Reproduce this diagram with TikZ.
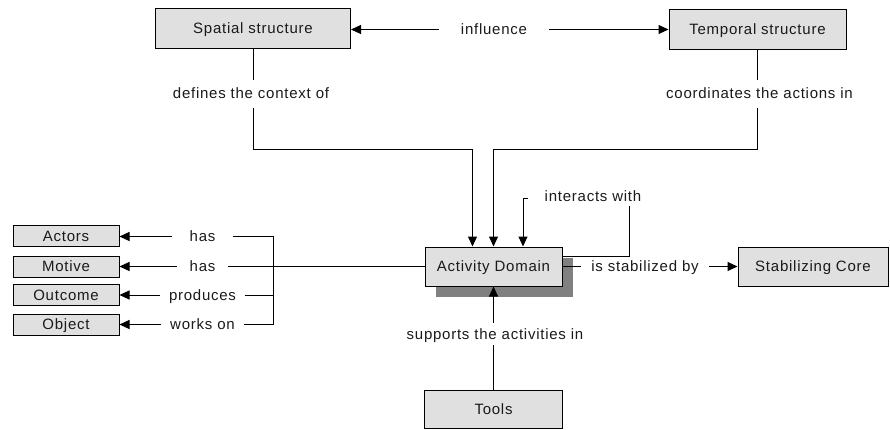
\documentclass[tikz,border=0pt]{standalone}
\usepackage{fontspec}
\setmainfont{Liberation Sans}[LetterSpace=5]
\usetikzlibrary{arrows.meta,shadows}
\definecolor{boxgray}{HTML}{E0E0E0}
\definecolor{shadowgray}{HTML}{808080}
\definecolor{ink}{HTML}{1A1A1A}
\begin{document}
\begin{tikzpicture}[x=1pt,y=-1pt,
  font=\fontsize{15}{18}\selectfont, text=ink,
  box/.style={draw=black, fill=boxgray, line width=1pt, inner sep=0pt, text height=11pt, text depth=1pt},
  bigbox/.style={box, minimum height=39pt},
  smallbox/.style={box, minimum width=106pt, minimum height=21pt},
  lbl/.style={inner ysep=0pt, text height=11pt, text depth=1pt},
  conn/.style={line width=1pt, draw=black},
  arr/.style={conn, -{Triangle[length=10pt,width=9pt]}},
]
\useasboundingbox (0,0) rectangle (890,430);
% boxes
\node[bigbox, minimum width=195pt, minimum height=40pt] (sp) at (253,29) {Spatial structure};
\node[bigbox, minimum width=177pt, minimum height=40pt] (tp) at (757.5,30) {Temporal structure};
\node[bigbox, minimum width=137pt, drop shadow={shadow xshift=11pt, shadow yshift=-11pt, fill=shadowgray, opacity=1}] (ad) at (493.5,266.5) {Activity Domain};
\node[bigbox, minimum width=150pt] (sc) at (813,266.5) {Stabilizing Core};
\node[bigbox, minimum width=138pt, minimum height=38pt] (tools) at (493.5,409) {Tools};
\node[smallbox] (actors) at (66,236) {Actors};
\node[smallbox] (motive) at (66,266.5) {Motive};
\node[smallbox] (outcome) at (66,295) {Outcome};
\node[smallbox] (object) at (66,324.5) {Object};
% labels
\node[lbl, inner xsep=22pt] (infl) at (494,29.5) {influence};
\node[lbl, inner ysep=7.5pt] (def) at (251,94) {defines the context of};
\node[lbl, inner ysep=7.5pt] (coo) at (759.5,94) {coordinates the actions in};
\node[lbl, inner xsep=17pt, inner ysep=3pt] (ia) at (593,197) {interacts with};
\node[lbl, inner xsep=10pt] (stab) at (645,266.5) {is stabilized by};
\node[lbl, inner ysep=5pt] (sup) at (495,334) {supports the activities in};
\node[lbl, inner xsep=17.5pt] (has1) at (202.5,236.5) {has};
\node[lbl, inner xsep=12.5pt] (has2) at (202.5,266.5) {has};
\node[lbl, inner xsep=8.5pt] (prod) at (202.5,295) {produces};
\node[lbl, inner xsep=9.5pt] (wo) at (202.5,324.5) {works on};
\coordinate (bustop) at (273,236.5);
\coordinate (busbot) at (273,324.5);
% connectors
\draw[arr] (infl.west) -- (infl.west -| sp.east);
\draw[arr] (infl.east) -- (infl.east -| tp.west);
\draw[conn] (sp.south) -- (sp.south |- def.north);
\draw[arr] (def.south -| sp.south) -- ++(0,42) -| ([xshift=-21pt]ad.north);
\draw[conn] (tp.south) -- (tp.south |- coo.north);
\draw[arr] (coo.south -| tp.south) -- ++(0,42) -| (ad.north);
\draw[conn] ([yshift=-10pt]ad.north east) -| (ia.south -| 629,0);
\draw[arr] ([yshift=-2pt]ia.west) -| ([xshift=29.5pt]ad.north);
\draw[conn] (ad.east) -- (stab.west);
\draw[arr] (stab.east) -- (sc.west);
\draw[conn] (tools.north) -- (tools.north |- sup.south);
\draw[arr] (sup.north -| tools.north) -- (ad.south);
\draw[conn] (ad.west) -- (has2.east);
\draw[arr] (has2.west) -- (motive.east);
\draw[arr] (has1.west) -- (has1.west -| actors.east);
\draw[arr] (prod.west) -- (prod.west -| outcome.east);
\draw[arr] (wo.west) -- (wo.west -| object.east);
\draw[conn] (has1.east) -- (bustop) -- (busbot) -- (wo.east);
\draw[conn] (prod.east) -- (prod.east -| bustop);
\end{tikzpicture}
\end{document}
